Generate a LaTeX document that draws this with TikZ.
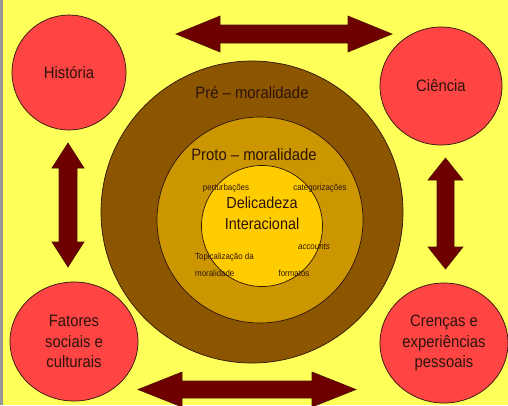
\documentclass[tikz,border=0pt]{standalone}
\usepackage{fontspec}
\setmainfont{Liberation Sans}[FakeStretch=0.9]
\usetikzlibrary{positioning,shapes.geometric}
\definecolor{bgyellow}{RGB}{255,255,90}
\definecolor{edgegray}{RGB}{150,150,150}
\definecolor{circred}{RGB}{255,68,68}
\definecolor{premoral}{RGB}{140,85,0}
\definecolor{protomoral}{RGB}{204,150,0}
\definecolor{delicada}{RGB}{255,204,0}
\definecolor{arrowred}{RGB}{110,0,0}
\definecolor{arrowedge}{RGB}{75,20,0}
\definecolor{inkdark}{RGB}{45,20,10}

\tikzset{
  factor/.style={ellipse,draw=inkdark,line width=.7pt,fill=circred,align=center,inner sep=0pt,
    font=\fontsize{16.5}{20.5}\selectfont,text=inkdark},
  ring/.style={circle,draw=inkdark,line width=.7pt,inner sep=0pt},
  ringlabel/.style={font=\fontsize{16.5}{18}\selectfont,text=inkdark,inner sep=0pt},
  tinylabel/.style={font=\fontsize{8.8}{10}\selectfont,text=inkdark,inner sep=0pt},
  bigarrow/.style={fill=arrowred,draw=arrowedge,line width=.6pt,line join=miter}
}

\begin{document}
\begin{tikzpicture}[x=1pt,y=-1pt]
  \useasboundingbox (0,0) rectangle (508,405);
  \fill[bgyellow] (0,0) rectangle (508,405);
  \fill[edgegray] (0,0) rectangle (3,405);

  % double arrows: centre x / centre y / half length / head length / head half / shaft half / angle
  \foreach \cx/\cy/\hl/\hd/\hw/\sw/\rot in {284/34/108/44/18/9/0, 247/389.5/109/44/17.5/8.5/0,
      68/205/62/25/16/9/90, 445.5/213.5/55.5/22/17.5/8.5/90}
    \draw[bigarrow,shift={(\cx,\cy)},rotate=\rot]
      (-\hl,0) -- (-\hl+\hd,-\hw) -- (-\hl+\hd,-\sw) -- (\hl-\hd,-\sw) -- (\hl-\hd,-\hw)
      -- (\hl,0) -- (\hl-\hd,\hw) -- (\hl-\hd,\sw) -- (-\hl+\hd,\sw) -- (-\hl+\hd,\hw) -- cycle;

  % influencing factors
  \node[factor,minimum width=114pt,minimum height=115pt] (hist) at (69,72.5) {História};
  \node[factor,minimum width=122pt,minimum height=118pt] (cien) at (441,86) {Ciência};
  \node[factor,minimum width=128pt,minimum height=119pt] (fato) at (74,341.5) {Fatores\\sociais e\\culturais};
  \node[factor,minimum width=128pt,minimum height=120pt] (cren) at (444,343) {Crenças e\\experiências\\pessoais};

  % nested levels
  \node[ring,fill=premoral,minimum size=302pt] (pre) at (252,212) {};
  \node[ring,fill=protomoral,minimum size=206pt] (proto) at (260,220) {};
  \node[ring,fill=delicada,minimum size=121pt] (deli) at (262,226) {};

  \node[ringlabel] (prelab) at (252,93) {Pré – moralidade};
  \node[ringlabel] (protolab) at (254,155) {Proto – moralidade};
  \node[ringlabel,align=center,font=\fontsize{16}{21}\selectfont] (delilab) at (262,213.5) {Delicadeza\\Interacional};

  \node[tinylabel] (pertu) at (226,188) {perturbações};
  \node[tinylabel] (categ) at (320,188) {categorizações};
  \node[tinylabel,font=\fontsize{8.8}{10}\selectfont\itshape] (accou) at (314,247) {accounts};
  \node[tinylabel,anchor=west] (topic) at (195,257) {Topicalização da};
  \node[tinylabel,anchor=west] (topicb) at (195,273) {moralidade};
  \node[tinylabel] (forma) at (294,273) {formatos};
\end{tikzpicture}
\end{document}
